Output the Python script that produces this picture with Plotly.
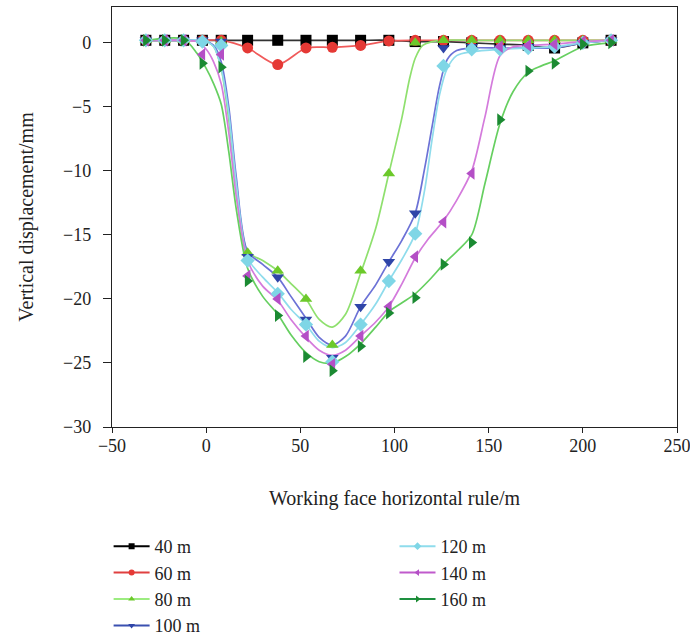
import plotly.graph_objects as go

# ---- marker data ----
x_pos = [-32, -22, -12, -2, 8, 22, 38, 53, 67, 82, 97, 111, 126, 141, 156, 171, 185, 200, 215]

y_40 = [0.2, 0.2, 0.2, 0.2, 0.2, 0.2, 0.2, 0.2, 0.2, 0.2, 0.2, 0.1, 0.1, 0.0, -0.1, -0.2, -0.4, 0.0, 0.2]
y_60 = [0.2, 0.2, 0.2, 0.2, 0.2, -0.4, -1.7, -0.4, -0.35, -0.2, 0.15, 0.2, 0.2, 0.2, 0.2, 0.2, 0.2, 0.2, 0.2]
y_80 = [0.2, 0.2, 0.2, 0.2, 0.1, -16.4, -17.8, -20.0, -23.6, -17.8, -10.2, 0.0, 0.2, 0.2, 0.2, 0.2, 0.2, 0.2, 0.2]
y_100 = [0.2, 0.2, 0.2, 0.2, 0.1, -16.7, -18.3, -21.6, -24.6, -20.6, -17.1, -13.3, -0.4, -0.3, -0.4, -0.3, -0.4, 0.0, 0.2]
y_120 = [0.2, 0.2, 0.2, 0.1, -0.2, -17.0, -19.6, -22.0, -24.9, -22.0, -18.6, -14.9, -1.8, -0.5, -0.5, -0.4, -0.3, 0.0, 0.2]
y_140 = [0.2, 0.2, 0.2, -0.9, -0.9, -18.2, -20.0, -22.9, -25.1, -22.9, -20.6, -16.7, -14.0, -10.2, -0.3, -0.2, -0.1, 0.1, 0.2]
y_160 = [0.2, 0.2, 0.2, -1.6, -1.9, -18.6, -21.3, -24.5, -25.6, -23.7, -21.1, -19.9, -17.3, -15.6, -6.0, -2.2, -1.6, -0.1, 0.0]

# ---- fitted-curve data ----
xc_40 = x_pos
yc_40 = y_40
xc_60 = x_pos
yc_60 = y_60
xc_80 = [-32, -12, -2, 4, 8, 12, 16, 22, 30, 38, 45, 53, 60, 67, 74, 82, 90, 97, 104, 108, 111, 115, 120, 126, 141, 171, 200, 215]
yc_80 = [0.2, 0.2, 0.2, -0.3, -2.0, -6.0, -11.0, -16.3, -17.0, -17.8, -18.8, -20.0, -21.6, -22.2, -21.2, -18.0, -14.5, -10.2, -5.8, -2.8, -1.2, -0.2, 0.1, 0.2, 0.2, 0.2, 0.2, 0.2]
xc_100 = [-32, -12, -2, 4, 8, 12, 16, 22, 30, 38, 45, 53, 60, 67, 74, 82, 90, 97, 104, 111, 116, 120, 124, 128, 133, 141, 156, 171, 185, 200, 215]
yc_100 = [0.2, 0.2, 0.2, -0.2, -1.5, -5.0, -10.5, -16.3, -17.3, -18.3, -19.8, -21.5, -23.0, -23.6, -22.9, -20.6, -18.9, -17.1, -15.4, -13.3, -9.8, -6.5, -3.3, -1.3, -0.6, -0.4, -0.4, -0.4, -0.4, 0.0, 0.2]
xc_120 = [-32, -12, -2, 4, 8, 12, 16, 22, 30, 38, 45, 53, 60, 67, 74, 82, 90, 97, 104, 111, 116, 120, 124, 128, 133, 141, 156, 171, 185, 200, 215]
yc_120 = [0.2, 0.2, 0.2, -0.3, -2.0, -5.5, -11.0, -16.8, -18.3, -19.5, -20.8, -22.0, -23.3, -23.8, -23.4, -22.0, -20.4, -18.6, -16.9, -14.9, -11.5, -7.5, -4.0, -2.0, -1.0, -0.7, -0.5, -0.4, -0.3, 0.0, 0.2]
xc_140 = [-32, -12, -5, 0, 4, 8, 12, 16, 22, 30, 38, 45, 53, 60, 67, 74, 82, 90, 97, 104, 111, 118, 126, 133, 141, 148, 156, 163, 171, 185, 200, 215]
yc_140 = [0.2, 0.2, 0.1, -0.5, -1.5, -3.2, -7.0, -12.0, -17.0, -19.0, -20.1, -21.6, -23.0, -24.0, -24.4, -24.0, -22.9, -21.8, -20.6, -18.8, -16.8, -15.3, -13.9, -12.3, -10.0, -5.8, -1.0, -0.3, -0.2, -0.1, 0.1, 0.2]
xc_160 = [-32, -12, -5, 0, 4, 8, 12, 16, 22, 30, 38, 45, 53, 60, 67, 74, 82, 90, 97, 104, 111, 118, 126, 133, 141, 148, 156, 163, 171, 178, 185, 200, 215]
yc_160 = [0.2, 0.3, -0.8, -2.0, -3.2, -4.8, -8.5, -13.0, -17.6, -19.8, -21.2, -22.8, -24.2, -24.9, -25.0, -24.5, -23.5, -22.2, -21.0, -20.3, -19.6, -18.6, -17.3, -16.3, -15.0, -11.0, -6.3, -3.8, -2.3, -1.8, -1.4, -0.3, 0.0]

series_names = ["40 m", "60 m", "80 m", "100 m", "120 m", "140 m", "160 m"]
marker_values = [y_40, y_60, y_80, y_100, y_120, y_140, y_160]
curve_x = [xc_40, xc_60, xc_80, xc_100, xc_120, xc_140, xc_160]
curve_y = [yc_40, yc_60, yc_80, yc_100, yc_120, yc_140, yc_160]

marker_colors = ["#000000", "#e53935", "#6cc92a", "#2f45a8", "#7fd6e6", "#b44fc6", "#1b8a32"]
line_colors = ["#333333", "#f05a5a", "#8fe06e", "#6c72d6", "#8fdcec", "#d47bdc", "#66cf60"]
legend_line_colors = ["#000000", "#e04040", "#9cec80", "#3a50b0", "#8fdcec", "#c05acc", "#1e9040"]
symbols = ["square", "circle", "triangle-up", "triangle-down", "diamond", "triangle-left", "triangle-right"]

FONT = "Liberation Serif"

fig = go.Figure()

for name, cx, cy, lc in zip(series_names, curve_x, curve_y, line_colors):
    fig.add_trace(go.Scatter(
        x=cx, y=cy, mode="lines", name=name, showlegend=False, hoverinfo="skip",
        line=dict(color=lc, width=1.7, shape="spline", smoothing=0.8),
    ))

for name, ys, mc, sym in zip(series_names, marker_values, marker_colors, symbols):
    fig.add_trace(go.Scatter(
        x=x_pos, y=ys, mode="markers", name=name, showlegend=False,
        marker=dict(symbol=sym, size=11, color=mc, line=dict(width=0)),
    ))

# legend-only entries with small markers
for i, (name, mc, llc, sym) in enumerate(zip(series_names, marker_colors, legend_line_colors, symbols)):
    fig.add_trace(go.Scatter(
        x=[None], y=[None], mode="lines+markers", name=name,
        legend="legend" if i < 4 else "legend2",
        line=dict(color=llc, width=2),
        marker=dict(symbol=sym, size=6, color=mc, line=dict(width=0)),
    ))

axis_common = dict(
    showline=True, mirror=True, linecolor="#222222", linewidth=1.3,
    ticks="outside", tickwidth=1.3, tickcolor="#222222",
    showgrid=False, zeroline=False,
    tickfont=dict(family=FONT, size=18, color="#222222"),
)

fig.update_layout(
    width=690, height=637,
    margin=dict(l=112, r=13, t=7, b=210, autoexpand=False),
    paper_bgcolor="white", plot_bgcolor="white",
    font=dict(family=FONT, size=18, color="#222222"),
    xaxis=dict(range=[-50, 250], dtick=50, tick0=0, ticklen=5, ticklabelstandoff=-3,
               ticklabeloverflow="allow",
               title=dict(text="Working face horizontal rule/m", font=dict(family=FONT, size=20), standoff=36),
               **axis_common),
    yaxis=dict(range=[-30, 2.8], dtick=5, tick0=0, ticklen=8, ticklabelstandoff=8,
               title=dict(text="Vertical displacement/mm", font=dict(family=FONT, size=20), standoff=24),
               **axis_common),
    legend=dict(x=-0.006, y=-0.2405, xanchor="left", yanchor="top", orientation="v",
                bgcolor="rgba(0,0,0,0)", font=dict(family=FONT, size=18), itemwidth=36,
                tracegroupgap=0),
    legend2=dict(x=0.50, y=-0.2405, xanchor="left", yanchor="top", orientation="v",
                 bgcolor="rgba(0,0,0,0)", font=dict(family=FONT, size=18), itemwidth=36,
                 tracegroupgap=0),
)

fig.write_html("out.html")
